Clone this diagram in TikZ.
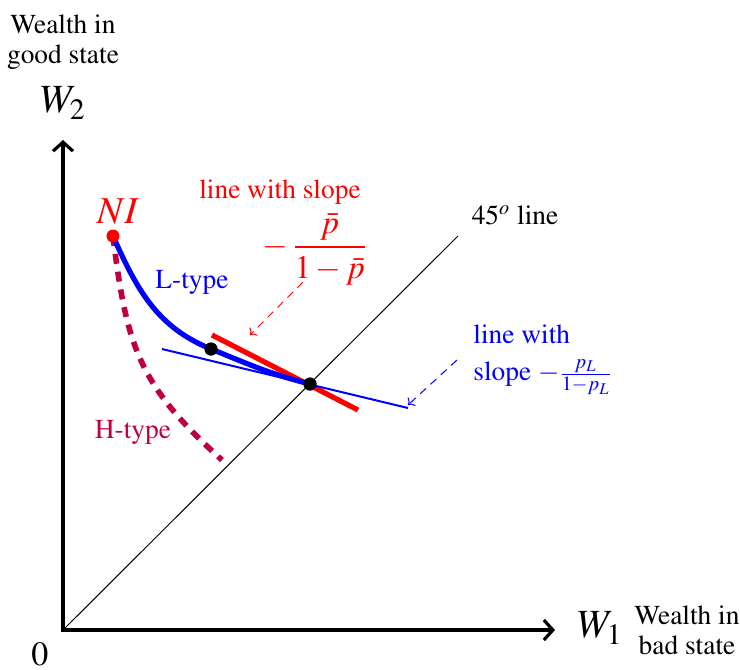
\documentclass[tikz,border=0pt]{standalone}
\usepackage{amsmath}
\usepackage[T1]{fontenc}
\usepackage{mathptmx}
\usetikzlibrary{positioning,arrows.meta}
\tikzset{
axis/.style={line width=1.6pt},
diag/.style={line width=0.5pt},
ltype/.style={blue,line width=2.6pt},
htype/.style={purple,line width=2.8pt,dash pattern=on 5pt off 4pt},
redline/.style={red,line width=2.6pt},
blueline/.style={blue,line width=1pt},
dot/.style={circle,fill=black,inner sep=0pt,minimum size=6.5pt},
pointer/.style={->,dash pattern=on 4pt off 3pt,line width=0.5pt},
lbl/.style={font=\fontsize{13.7}{15}\selectfont,align=center,inner sep=1pt},
big/.style={font=\fontsize{20}{22}\selectfont,inner sep=0pt}
}

\begin{document}
\begin{tikzpicture}[x=0.5pt,y=-0.5pt]
\useasboundingbox (0,0) rectangle (740,670);
\coordinate (O) at (63,630);
\coordinate (ytop) at (63,140);
\coordinate (xend) at (555,630);
\coordinate (d45) at (458,236);
\draw[axis,{Straight Barb[length=4.5pt,width=10pt]}-{Straight Barb[length=4.5pt,width=10pt]}] (ytop) -- (O) -- (xend);
\draw[diag] (O) -- (d45);
\node[big] (w2) at (63,103) {$W_2$};
\node[lbl] (goodstate) at (63,42) {Wealth in\\good state};
\node[big] (w1) at (600,628) {$W_1$};
\node[lbl] (badstate) at (687,630) {Wealth in\\bad state};
\node[font=\fontsize{17}{19}\selectfont,inner sep=0pt] (zero) at (40,654) {0};
\node[dot] (E) at (310,384) {};
\node[dot] (A) at (211,349) {};
\coordinate (hend) at (222,460);
\coordinate (r1) at (212,335);
\coordinate (r2) at (358,410);
\coordinate (b1) at (162,349);
\coordinate (b2) at (408,408);
\draw[htype] (113,236) to[out=-83,in=138,looseness=1.15] (hend);
\draw[redline] (r1) -- (r2);
\draw[blueline] (b1) -- (b2);
\draw[ltype] (113,236) to[out=-66,in=158] (A.center) to[out=-22,in=166] (E.center);
\node[dot] at (E) {};
\node[dot] at (A) {};
\node[dot,fill=red] (NI) at (113,236) {};
\node[lbl,red,font=\fontsize{19}{21}\selectfont] (nilabel) at (118,211) {$NI$};
\node[lbl,blue] (ltext) at (192,283) {L-type};
\node[lbl,purple] (htext) at (133,433) {H-type};
\node[lbl] (line45) at (515,215) {$45^o$ line};
\node[lbl,red] (slope) at (280,192) {line with slope};
\node[lbl,red,font=\fontsize{16.5}{18}\selectfont,inner sep=0pt] (pbar) at (315,249) {$-\,\dfrac{\bar p}{1-\bar p}$};
\coordinate (rtail) at (303,282);
\coordinate (rtip) at (250,335);
\draw[pointer,red] (rtail) -- (rtip);
\node[lbl,blue,anchor=west] (bl1) at (471,334) {line with};
\node[lbl,blue,anchor=west] (bl2) at (471,377) {slope $-\frac{p_L}{1-p_L}$};
\coordinate (btail) at (457,360);
\coordinate (btip) at (408,405);
\draw[pointer,blue] (btail) -- (btip);
\end{tikzpicture}
\end{document}
